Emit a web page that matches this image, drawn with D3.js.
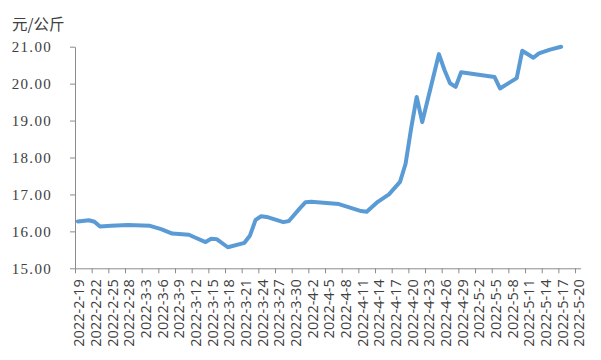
<!DOCTYPE html>
<html>
<head>
<meta charset="utf-8">
<script src="https://cdn.jsdelivr.net/npm/d3@7"></script>
<style>
  html, body { margin: 0; padding: 0; background: #fff; }
  svg { display: block; }
</style>
</head>
<body>
<svg id="chart" width="601" height="360"></svg>
<script>
// ---- data ----
const dates = [
  "2022-2-19","2022-2-21","2022-2-22","2022-2-23","2022-2-25","2022-2-28","2022-3-4",
  "2022-3-6","2022-3-8","2022-3-11","2022-3-12","2022-3-14","2022-3-15","2022-3-16",
  "2022-3-18","2022-3-21","2022-3-22","2022-3-23","2022-3-24","2022-3-25","2022-3-28",
  "2022-3-29","2022-3-31","2022-4-1","2022-4-2","2022-4-7","2022-4-11","2022-4-12",
  "2022-4-14","2022-4-16","2022-4-18","2022-4-19","2022-4-20","2022-4-21","2022-4-22",
  "2022-4-25","2022-4-26","2022-4-27","2022-4-28","2022-4-29","2022-5-5","2022-5-6",
  "2022-5-9","2022-5-10","2022-5-12","2022-5-13","2022-5-15","2022-5-17"
];
const prices = [
  16.27,16.30,16.26,16.13,16.15,16.17,16.15,
  16.06,15.94,15.91,15.84,15.71,15.80,15.79,
  15.57,15.69,15.89,16.31,16.41,16.39,16.25,
  16.28,16.63,16.79,16.80,16.74,16.55,16.53,
  16.80,17.00,17.34,17.83,18.79,19.64,18.96,
  20.80,20.37,20.01,19.91,20.31,20.18,19.87,
  20.15,20.89,20.70,20.82,20.92,21.00
];
const xTickLabels = [
  "2022-2-19","2022-2-22","2022-2-25","2022-2-28","2022-3-3","2022-3-6","2022-3-9",
  "2022-3-12","2022-3-15","2022-3-18","2022-3-21","2022-3-24","2022-3-27","2022-3-30",
  "2022-4-2","2022-4-5","2022-4-8","2022-4-11","2022-4-14","2022-4-17","2022-4-20",
  "2022-4-23","2022-4-26","2022-4-29","2022-5-2","2022-5-5","2022-5-8","2022-5-11",
  "2022-5-14","2022-5-17","2022-5-20"
];
const yTicks = [15, 16, 17, 18, 19, 20, 21];
const unitLabel = "元/公斤";

// ---- layout ----
const parse = d3.timeParse("%Y-%m-%d");
const svg = d3.select("#chart");
const axisColor = "#8c8c8c";
const textColor = "#404040";

const x = d3.scaleTime()
  .domain([parse("2022-2-19"), parse("2022-5-21")])
  .range([75, 580.6]);
const y = d3.scaleLinear().domain([15, 21]).range([268.3, 46.7]);

// y axis
const yAxis = svg.append("g")
  .attr("transform", "translate(75,0)")
  .call(d3.axisLeft(y).tickValues(yTicks).tickFormat(d3.format(".2f")).tickSize(5).tickSizeOuter(0));
yAxis.select(".domain").attr("stroke", axisColor);
yAxis.selectAll(".tick line").attr("stroke", axisColor);
yAxis.selectAll(".tick text")
  .attr("x", -23)
  .attr("fill", textColor)
  .style("font-family", "'Liberation Serif', 'DejaVu Serif', serif")
  .style("font-size", "15px")
  .style("letter-spacing", "1.3px");

// x axis
const tickDates = xTickLabels.map(parse);
const xAxis = svg.append("g")
  .attr("transform", "translate(0,268.3)")
  .call(d3.axisBottom(x).tickValues(tickDates).tickFormat((d, i) => xTickLabels[i]).tickSize(5).tickSizeOuter(0));
xAxis.select(".domain").attr("stroke", axisColor);
xAxis.selectAll(".tick line").attr("stroke", axisColor);
xAxis.selectAll(".tick text")
  .attr("transform", "translate(0,11) rotate(-90)")
  .attr("x", 0).attr("y", 0).attr("dy", "0.6em")
  .attr("text-anchor", "end")
  .attr("fill", textColor)
  .style("font-family", "'Open Sans', sans-serif")
  .style("font-size", "14.5px");

// unit label
svg.append("text")
  .attr("x", 12).attr("y", 30)
  .attr("fill", textColor)
  .style("font-family", "'Noto Sans CJK SC', sans-serif")
  .style("font-size", "15.5px")
  .text(unitLabel);

// line
const data = dates.map((d, i) => ({ date: d3.timeHour.offset(parse(d), 12), v: prices[i] }));
const line = d3.line().x(d => x(d.date)).y(d => y(d.v)).curve(d3.curveLinear);
svg.append("path")
  .datum(data)
  .attr("d", line)
  .attr("fill", "none")
  .attr("stroke", "#5B9BD5")
  .attr("stroke-width", 4)
  .attr("stroke-linejoin", "round")
  .attr("stroke-linecap", "round");
</script>
</body>
</html>
